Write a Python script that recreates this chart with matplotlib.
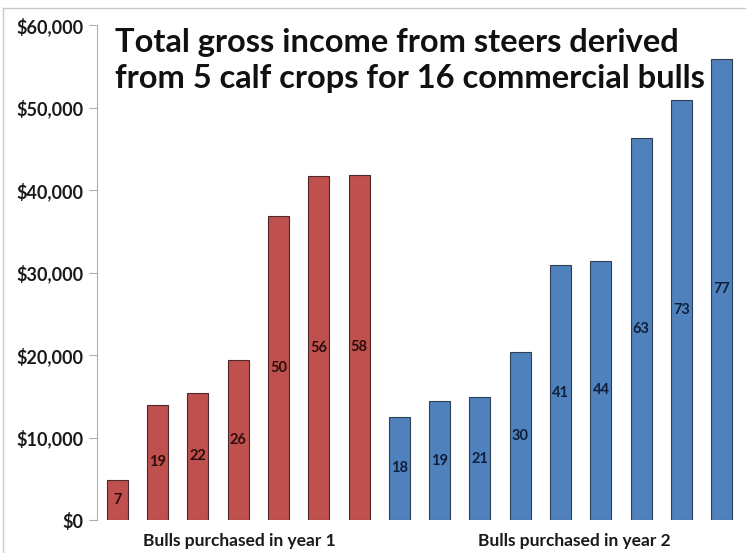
import matplotlib
matplotlib.use("Agg")
import matplotlib.pyplot as plt
from matplotlib.lines import Line2D

plt.rcParams['font.family'] = ['Lato', 'DejaVu Sans']

# Data
year1_income = [4900, 14000, 15400, 19350, 36850, 41700, 41850]
year1_labels = ['7', '19', '22', '26', '50', '56', '58']
year2_income = [12500, 14400, 14850, 20350, 30850, 31450, 46300, 50950, 55900]
year2_labels = ['18', '19', '21', '30', '41', '44', '63', '73', '77']
group_names = ['Bulls purchased in year 1', 'Bulls purchased in year 2']
yticks = [0, 10000, 20000, 30000, 40000, 50000, 60000]
ytick_labels = ['$0', '$10,000', '$20,000', '$30,000', '$40,000', '$50,000', '$60,000']
title = 'Total gross income from steers derived\nfrom 5 calf crops for 16 commercial bulls'

W, H = 749, 553
fig = plt.figure(figsize=(W / 100, H / 100), dpi=100)
fig.patch.set_facecolor('white')

# figure frame
fig.add_artist(Line2D([3 / W, 745 / W], [1 - 8 / H, 1 - 8 / H], color='#c8c8c8', lw=1))
fig.add_artist(Line2D([3 / W, 3 / W], [0, 1 - 8 / H], color='#c8c8c8', lw=1))

ax = fig.add_axes([97 / W, 33 / H, 645 / W, 495 / H])

n1 = len(year1_income)
x1 = list(range(n1))
x2 = list(range(n1, n1 + len(year2_income)))

ax.bar(x1, year1_income, width=0.52, color='#C0504D', edgecolor='#4a2a2a', linewidth=0.8)
ax.bar(x2, year2_income, width=0.52, color='#4F81BD', edgecolor='#2f3f55', linewidth=0.8)

for xi, v, lab in zip(x1, year1_income, year1_labels):
    ax.text(xi, v / 2, lab, ha='center', va='center', fontsize=10.5, fontweight='bold', color='#2b0d0c')
for xi, v, lab in zip(x2, year2_income, year2_labels):
    ax.text(xi, v / 2, lab, ha='center', va='center', fontsize=10.5, fontweight='bold', color='#0f1f3a')

ax.set_xlim(-0.5, n1 + len(year2_income) - 0.5)
ax.set_ylim(0, 60000)
ax.set_yticks(yticks)
ax.set_yticklabels(ytick_labels, fontsize=13, fontweight='bold', color='#1a1a1a')
ax.set_xticks([])
ax.tick_params(axis='y', length=6, width=0.8, color='#b0b0b0', pad=4)

for s in ['top', 'right', 'bottom']:
    ax.spines[s].set_visible(False)
ax.spines['left'].set_color('#b0b0b0')
ax.spines['left'].set_linewidth(0.8)

# group labels
fig.text(239 / W, 1 - 541 / H, group_names[0], ha='center', va='center', fontsize=12.5, fontweight='bold', color='#1a1a1a')
fig.text(574 / W, 1 - 541 / H, group_names[1], ha='center', va='center', fontsize=12.5, fontweight='bold', color='#1a1a1a')

# title
fig.text(115 / W, 1 - 28 / H, title, ha='left', va='top', fontsize=23.5, fontweight='bold',
         color='#111111', linespacing=1.3)

fig.savefig('out.png', dpi=100, facecolor='white')
